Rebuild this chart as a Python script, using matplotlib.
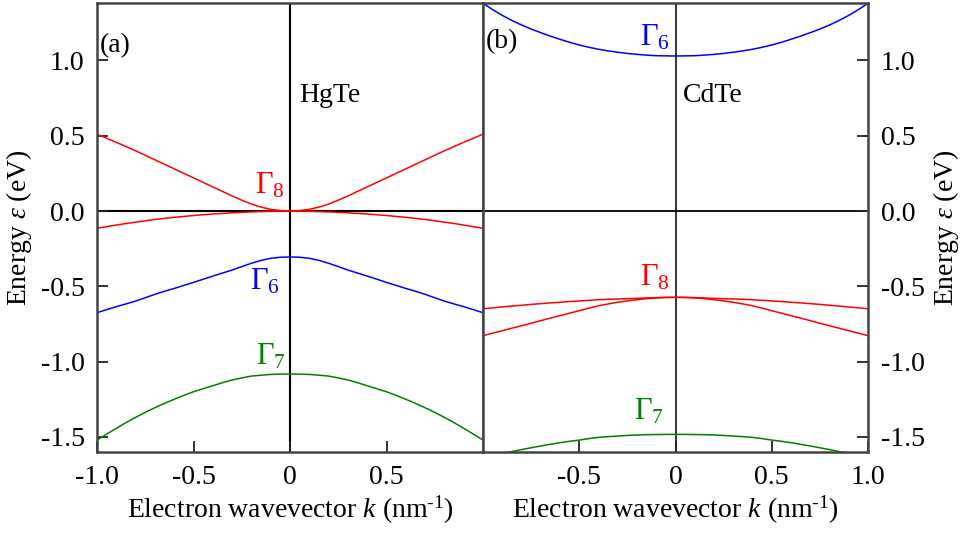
import numpy as np
import matplotlib
matplotlib.use("Agg")
import matplotlib.pyplot as plt

plt.rcParams['font.family'] = ['Liberation Serif', 'DejaVu Serif']
plt.rcParams['mathtext.fontset'] = 'custom'
plt.rcParams['mathtext.rm'] = 'Liberation Serif'
plt.rcParams['mathtext.it'] = 'Liberation Serif:italic'
plt.rcParams['mathtext.bf'] = 'Liberation Serif:bold'

# wavevector k >= 0 (nm^-1); bands are symmetric in k
k_half = [0.0, 0.05, 0.1, 0.15, 0.2, 0.25, 0.3, 0.35, 0.4, 0.45, 0.5,
          0.55, 0.6, 0.65, 0.7, 0.75, 0.8, 0.85, 0.9, 0.95, 1.0]

# (a) HgTe bands (eV)
hg_g8_up = [0.0, 0.003, 0.011, 0.026, 0.046, 0.072, 0.100, 0.130, 0.160, 0.190, 0.220,
            0.250, 0.280, 0.310, 0.340, 0.370, 0.400, 0.428, 0.456, 0.483, 0.510]
hg_g8_dn = [0.0, -0.0005, -0.002, -0.004, -0.006, -0.009, -0.012, -0.016, -0.020, -0.025, -0.030,
            -0.036, -0.042, -0.049, -0.056, -0.065, -0.074, -0.083, -0.093, -0.104, -0.115]
hg_g6 = [-0.305, -0.307, -0.314, -0.328, -0.347, -0.369, -0.392, -0.412, -0.432, -0.453, -0.474,
         -0.494, -0.514, -0.533, -0.553, -0.576, -0.598, -0.617, -0.635, -0.655, -0.675]
hg_g7 = [-1.082, -1.083, -1.085, -1.090, -1.096, -1.108, -1.122, -1.140, -1.160, -1.180, -1.200,
         -1.224, -1.250, -1.277, -1.306, -1.337, -1.370, -1.405, -1.443, -1.481, -1.521]

# (b) CdTe bands (eV)
cd_g6 = [1.029, 1.030, 1.031, 1.035, 1.040, 1.046, 1.054, 1.063, 1.074, 1.087, 1.102,
         1.120, 1.140, 1.161, 1.184, 1.208, 1.235, 1.265, 1.299, 1.337, 1.379]
cd_g8_hh = [-0.573, -0.5735, -0.575, -0.577, -0.580, -0.582, -0.584, -0.586, -0.589, -0.593, -0.597,
            -0.601, -0.606, -0.610, -0.615, -0.620, -0.626, -0.631, -0.637, -0.643, -0.649]
cd_g8_lh = [-0.573, -0.574, -0.577, -0.582, -0.589, -0.597, -0.606, -0.617, -0.629, -0.645, -0.662,
            -0.678, -0.695, -0.711, -0.728, -0.745, -0.762, -0.778, -0.795, -0.811, -0.828]
cd_g7 = [-1.483, -1.4832, -1.484, -1.485, -1.487, -1.490, -1.494, -1.498, -1.503, -1.511, -1.521,
         -1.529, -1.538, -1.549, -1.560, -1.572, -1.584, -1.597, -1.610, -1.627, -1.645]

ytick_vals = [-1.5, -1.0, -0.5, 0.0, 0.5, 1.0]
ytick_labels = ['-1.5', '-1.0', '-0.5', '0.0', '0.5', '1.0']
xtick_a = [-1.0, -0.5, 0.0, 0.5]
xtick_a_labels = ['-1.0', '-0.5', '0', '0.5']
xtick_b = [-0.5, 0.0, 0.5, 1.0]
xtick_b_labels = ['-0.5', '0', '0.5', '1.0']

RED = '#ff0000'
BLUE = '#0000ff'
GREEN = '#008000'
FS = 20
GFS = 22


def full(half, odd=False):
    # mirror the k >= 0 half onto k < 0
    h = np.asarray(half, dtype=float)
    left = -h[:0:-1] if odd else h[:0:-1]
    return np.concatenate([left, h])


k = full(k_half, odd=True)

fig = plt.figure(figsize=(9.64, 5.36), dpi=100)
x0, x1, x2 = 97 / 964, 483 / 964, 868 / 964
yb, yt = 1 - 452 / 536, 1 - 3 / 536
axa = fig.add_axes([x0, yb, x1 - x0, yt - yb])
axb = fig.add_axes([x1, yb, x2 - x1, yt - yb])

for ax in (axa, axb):
    ax.set_xlim(-1.0, 1.0)
    ax.set_ylim(-1.6, 1.381)
    for s in ax.spines.values():
        s.set_color('#444444')
        s.set_linewidth(1.8)
    ax.set_yticks(ytick_vals)
    ax.set_yticklabels(ytick_labels)
    ax.tick_params(direction='in', length=8, width=1.3, color='#222222',
                   labelsize=FS, pad=9)
    ax.set_xlabel('Electron wavevector $k$ (nm$^{\\text{-}1}$)', fontsize=FS, labelpad=3)

# left panel, HgTe
axa.axhline(0, color='black', lw=1.5, zorder=1)
axa.axvline(0, color='black', lw=1.5, zorder=1)
axa.plot(k, full(hg_g8_up), color=RED, lw=1.1)
axa.plot(k, full(hg_g8_dn), color=RED, lw=1.1)
axa.plot(k, full(hg_g6), color=BLUE, lw=1.1)
axa.plot(k, full(hg_g7), color=GREEN, lw=1.1)
axa.set_xticks(xtick_a)
axa.set_xticklabels(xtick_a_labels)
axa.tick_params(axis='y', left=True, right=False)
axa.set_ylabel('Energy $\\varepsilon$ (eV)', fontsize=FS, labelpad=5)
axa.text(0.008, 0.905, '(a)', transform=axa.transAxes, fontsize=FS, va='center')
axa.text(0.05, 0.77, 'HgTe', fontsize=FS, va='center')
axa.text(-0.025, 0.17, '$\\Gamma_8$', color=RED, fontsize=GFS, ha='right', va='center')
axa.text(-0.05, -0.47, '$\\Gamma_6$', color=BLUE, fontsize=GFS, ha='right', va='center')
axa.text(-0.02, -0.97, '$\\Gamma_7$', color=GREEN, fontsize=GFS, ha='right', va='center')

# right panel, CdTe
axb.axhline(0, color='black', lw=1.3, zorder=1)
axb.axvline(0, color='black', lw=1.1, zorder=1)
axb.plot(k, full(cd_g6), color=BLUE, lw=1.1)
axb.plot(k, full(cd_g8_hh), color=RED, lw=1.1)
axb.plot(k, full(cd_g8_lh), color=RED, lw=1.1)
axb.plot(k, full(cd_g7), color=GREEN, lw=1.1)
axb.set_xticks(xtick_b)
axb.set_xticklabels(xtick_b_labels)
axb.yaxis.tick_right()
axb.yaxis.set_label_position('right')
axb.tick_params(axis='y', left=False, right=True, labelleft=False, labelright=True)
axb.set_ylabel('Energy $\\varepsilon$ (eV)', fontsize=FS, labelpad=5, rotation=90)
axb.text(0.008, 0.915, '(b)', transform=axb.transAxes, fontsize=FS, va='center')
axb.text(0.04, 0.77, 'CdTe', fontsize=FS, va='center')
axb.text(-0.03, 1.15, '$\\Gamma_6$', color=BLUE, fontsize=GFS, ha='right', va='center')
axb.text(-0.03, -0.44, '$\\Gamma_8$', color=RED, fontsize=GFS, ha='right', va='center')
axb.text(-0.06, -1.335, '$\\Gamma_7$', color=GREEN, fontsize=GFS, ha='right', va='center')

fig.savefig('out.png', dpi=100)
